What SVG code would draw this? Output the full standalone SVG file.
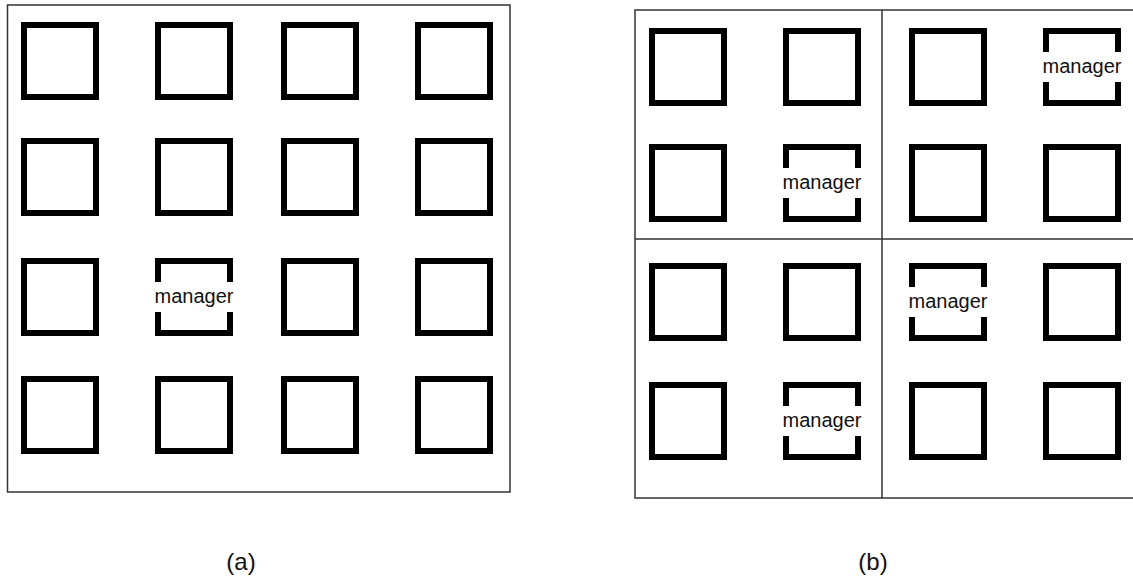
<svg xmlns="http://www.w3.org/2000/svg" xmlns:xlink="http://www.w3.org/1999/xlink" width="1133" height="584" viewBox="0 0 1133 584">
<style>
.frame{fill:none;stroke:#333;stroke-width:1.5}
.div{fill:none;stroke:#333;stroke-width:1.5}
.sq{fill:none;stroke:#000;stroke-width:6;stroke-linejoin:miter}
.lbl{font-family:"Liberation Sans",Arial,sans-serif;font-size:20px;fill:#111;text-anchor:middle}
.cap{font-family:"Liberation Sans",Arial,sans-serif;font-size:24px;fill:#111;text-anchor:middle}
</style>
<defs>
<rect id="sq" class="sq" x="3" y="3" width="72" height="72"/>
<g id="mgr">
<path class="sq" d="M3,24 V3 H75 V24 M3,54 V75 H75 V54"/>
<text class="lbl" x="39" y="45">manager</text>
</g>
</defs>
<rect id="frame-a" class="frame" x="7.5" y="5" width="502.5" height="487"/>
<g id="frame-b">
<rect class="frame" x="635" y="10" width="500" height="488"/>
<line class="div" x1="882" y1="10" x2="882" y2="498"/>
<line class="div" x1="635" y1="239" x2="1135" y2="239"/>
</g>
<g id="panel-a">
<g id="a-r1c1" transform="translate(21,22)"><use href="#sq"/></g>
<g id="a-r1c2" transform="translate(155,22)"><use href="#sq"/></g>
<g id="a-r1c3" transform="translate(281,22)"><use href="#sq"/></g>
<g id="a-r1c4" transform="translate(415,22)"><use href="#sq"/></g>
<g id="a-r2c1" transform="translate(21,138)"><use href="#sq"/></g>
<g id="a-r2c2" transform="translate(155,138)"><use href="#sq"/></g>
<g id="a-r2c3" transform="translate(281,138)"><use href="#sq"/></g>
<g id="a-r2c4" transform="translate(415,138)"><use href="#sq"/></g>
<g id="a-r3c1" transform="translate(21,258)"><use href="#sq"/></g>
<g id="a-r3c2" transform="translate(155,258)"><use href="#mgr"/></g>
<g id="a-r3c3" transform="translate(281,258)"><use href="#sq"/></g>
<g id="a-r3c4" transform="translate(415,258)"><use href="#sq"/></g>
<g id="a-r4c1" transform="translate(21,376)"><use href="#sq"/></g>
<g id="a-r4c2" transform="translate(155,376)"><use href="#sq"/></g>
<g id="a-r4c3" transform="translate(281,376)"><use href="#sq"/></g>
<g id="a-r4c4" transform="translate(415,376)"><use href="#sq"/></g>
</g>
<g id="panel-b">
<g id="b-r1c1" transform="translate(649,28)"><use href="#sq"/></g>
<g id="b-r1c2" transform="translate(783,28)"><use href="#sq"/></g>
<g id="b-r1c3" transform="translate(909,28)"><use href="#sq"/></g>
<g id="b-r1c4" transform="translate(1043,28)"><use href="#mgr"/></g>
<g id="b-r2c1" transform="translate(649,144)"><use href="#sq"/></g>
<g id="b-r2c2" transform="translate(783,144)"><use href="#mgr"/></g>
<g id="b-r2c3" transform="translate(909,144)"><use href="#sq"/></g>
<g id="b-r2c4" transform="translate(1043,144)"><use href="#sq"/></g>
<g id="b-r3c1" transform="translate(649,263)"><use href="#sq"/></g>
<g id="b-r3c2" transform="translate(783,263)"><use href="#sq"/></g>
<g id="b-r3c3" transform="translate(909,263)"><use href="#mgr"/></g>
<g id="b-r3c4" transform="translate(1043,263)"><use href="#sq"/></g>
<g id="b-r4c1" transform="translate(649,382)"><use href="#sq"/></g>
<g id="b-r4c2" transform="translate(783,382)"><use href="#mgr"/></g>
<g id="b-r4c3" transform="translate(909,382)"><use href="#sq"/></g>
<g id="b-r4c4" transform="translate(1043,382)"><use href="#sq"/></g>
</g>
<g id="connectors"/>
<text class="cap" x="241" y="570">(a)</text>
<text class="cap" x="873" y="570">(b)</text>
</svg>
